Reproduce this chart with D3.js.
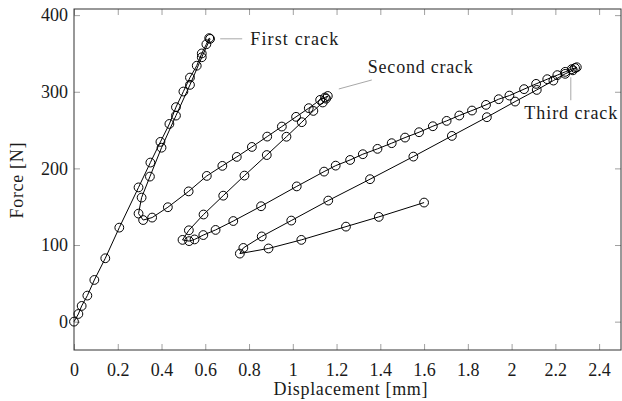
<!DOCTYPE html>
<html><head><meta charset="utf-8">
<script src="https://cdn.jsdelivr.net/npm/d3@7"></script>
<style>html,body{margin:0;padding:0;background:#fff;}svg{display:block;}</style>
</head><body>
<script>
// Data: displacement [mm], force [N] per load segment (one continuous path)
const loading1 = [[0,0],[0.02,10],[0.035,20.5],[0.061,34],[0.093,54.4],[0.143,82.7],[0.207,122.7],[0.295,175.2],[0.349,207.6],[0.395,234.6],[0.436,258],[0.466,279.9],[0.5,300.3],[0.53,318.5],[0.561,334],[0.584,350],[0.605,362],[0.618,370]];
const unloading1 = [[0.622,369],[0.584,345],[0.53,309],[0.466,268.9],[0.4,227],[0.347,189.3],[0.309,161.9],[0.295,141]];
const reloading2 = [[0.316,132.6],[0.357,135.8],[0.429,149.3],[0.524,170],[0.607,190.2],[0.678,203.3],[0.744,215],[0.813,228],[0.883,241.5],[0.95,254.6],[1.015,267.3],[1.073,278.6],[1.125,289.4],[1.147,292.5],[1.16,294.5]];
const unloading2 = [[1.152,291],[1.137,286],[1.094,275],[1.041,260.3],[0.971,241.3],[0.881,217.4],[0.779,190.6],[0.682,164.4],[0.592,139.8],[0.525,119.2],[0.496,106.7]];
const reloading3 = [[0.526,105.1],[0.551,107.3],[0.591,113],[0.647,119.7],[0.728,131.3],[0.855,150.6],[1.018,176.5],[1.143,195.8],[1.196,203.6],[1.262,211],[1.32,218.5],[1.387,225.5],[1.452,232.9],[1.513,240.2],[1.577,247.2],[1.64,255],[1.703,262],[1.761,269],[1.819,275.5],[1.883,282.9],[1.941,290.3],[1.99,295],[2.057,303.4],[2.112,310.3],[2.163,316.4],[2.209,321.7],[2.245,326],[2.275,329.5],[2.29,331],[2.298,332]];
const unloading3 = [[2.28,328],[2.245,323.4],[2.191,314.6],[2.115,302.4],[2.016,287.2],[1.887,266.8],[1.727,242.4],[1.551,215.4],[1.353,185.9],[1.162,158],[0.993,131.9],[0.858,111.2],[0.774,96.2],[0.758,88.8]];
const reloading4 = [[0.889,95.5],[1.039,106.7],[1.243,124],[1.393,136.7],[1.6,155.4]];

const xTicks = [0,0.2,0.4,0.6,0.8,1,1.2,1.4,1.6,1.8,2,2.2,2.4];
const yTicks = [0,100,200,300,400];
const annotations = [
  {text:"First crack", x:0.618, y:370},
  {text:"Second crack", x:1.16, y:294.5},
  {text:"Third crack", x:2.298, y:332}
];

const W = 622, H = 401;
const m = {left:74, top:9, right:1, bottom:51};
const iw = W - m.left - m.right, ih = H - m.top - m.bottom;
const font = "'Liberation Serif', 'Times New Roman', serif";

const svg = d3.select("body").append("svg").attr("width", W).attr("height", H);
const g = svg.append("g").attr("transform", `translate(${m.left},${m.top})`);

const x = d3.scaleLinear().domain([0, 2.5]).range([0, iw]);
const y = d3.scaleLinear().domain([-37, 408]).range([ih, 0]);

// ticks (inward on all four sides)
const tickLen = 6;
function styleAxis(sel){
  sel.select(".domain").remove();
  sel.selectAll(".tick line").attr("stroke", "#a0a0a0").attr("stroke-width", 1);
  sel.selectAll(".tick text").attr("font-family", font).attr("font-size", 18).attr("fill", "#1a1a1a");
}
g.append("g").attr("transform", `translate(0,${ih})`)
  .call(d3.axisBottom(x).tickValues(xTicks).tickSize(-tickLen).tickPadding(13).tickFormat(d3.format("~g")))
  .call(styleAxis);
g.append("g")
  .call(d3.axisTop(x).tickValues(xTicks).tickSize(-tickLen).tickFormat(""))
  .call(styleAxis);
g.append("g")
  .call(d3.axisLeft(y).tickValues(yTicks).tickSize(-tickLen).tickPadding(6).tickFormat(d3.format("d")))
  .call(styleAxis);
g.append("g").attr("transform", `translate(${iw},0)`)
  .call(d3.axisRight(y).tickValues(yTicks).tickSize(-tickLen).tickFormat(""))
  .call(styleAxis);

// frame
g.append("rect").attr("x", 0).attr("y", 0).attr("width", iw).attr("height", ih)
  .attr("fill", "none").attr("stroke", "#333").attr("stroke-width", 1);

// data path
const all = [].concat(loading1, unloading1, reloading2, unloading2, reloading3, unloading3, reloading4);
const line = d3.line().x(d => x(d[0])).y(d => y(d[1]));
g.append("path").datum(all).attr("d", line).attr("fill", "none").attr("stroke", "#000").attr("stroke-width", 1);
g.selectAll("circle.pt").data(all).enter().append("circle").attr("class","pt")
  .attr("cx", d => x(d[0])).attr("cy", d => y(d[1])).attr("r", 4.4)
  .attr("fill", "none").attr("stroke", "#000").attr("stroke-width", 1);

// annotations (pins)
const a1 = annotations[0], a2 = annotations[1], a3 = annotations[2];
const P1 = [x(a1.x), y(a1.y)], P2 = [x(a2.x), y(a2.y)], P3 = [x(a3.x), y(a3.y)];
const pin = g.append("g").attr("stroke", "#a8a8a8").attr("stroke-width", 1);
pin.append("line").attr("x1", P1[0]+11).attr("y1", P1[1]+0.7).attr("x2", P1[0]+33).attr("y2", P1[1]+0.7);
pin.append("line").attr("x1", P2[0]+11).attr("y1", P2[1]-7).attr("x2", P2[0]+44).attr("y2", P2[1]-16);
pin.append("line").attr("x1", P3[0]-6).attr("y1", P3[1]+10).attr("x2", P3[0]-6).attr("y2", P3[1]+33);

const lab = g.append("g").attr("font-family", font).attr("font-size", 18).attr("fill", "#1a1a1a");
lab.append("text").attr("x", P1[0]+41).attr("y", P1[1]+6.7).attr("textLength", 88).attr("lengthAdjust","spacing").text(a1.text);
lab.append("text").attr("x", P2[0]+40).attr("y", P2[1]-22.5).attr("textLength", 105).attr("lengthAdjust","spacing").text(a2.text);
lab.append("text").attr("x", P3[0]-52.5).attr("y", P3[1]+52).attr("textLength", 93).attr("lengthAdjust","spacing").text(a3.text);

// axis labels
svg.append("text").attr("x", 350.5).attr("y", 395).attr("text-anchor", "middle")
  .attr("font-family", font).attr("font-size", 18).attr("fill", "#1a1a1a")
  .attr("textLength", 154).attr("lengthAdjust","spacing").text("Displacement [mm]");
svg.append("text").attr("transform", "translate(23,180.5) rotate(-90)").attr("text-anchor", "middle")
  .attr("font-family", font).attr("font-size", 18).attr("fill", "#1a1a1a")
  .attr("textLength", 76).attr("lengthAdjust","spacing").text("Force [N]");
</script>
</body></html>
